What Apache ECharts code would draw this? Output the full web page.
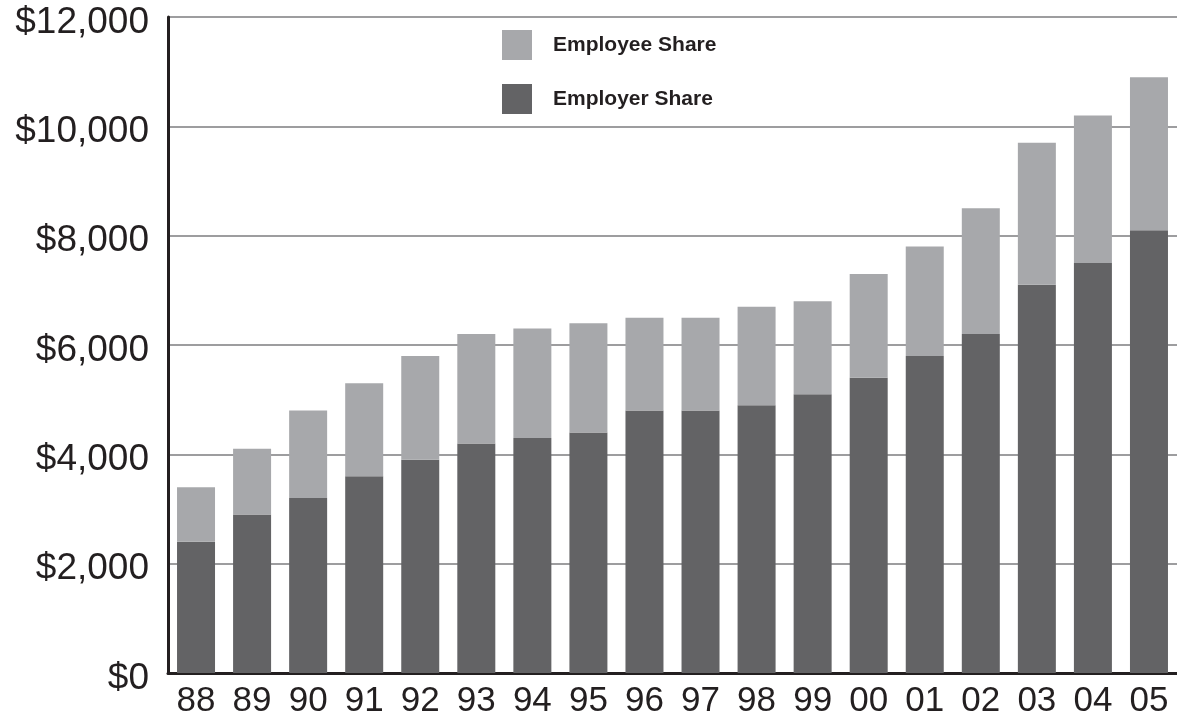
<!DOCTYPE html>
<html>
<head>
<meta charset="utf-8">
<script src="https://cdn.jsdelivr.net/npm/echarts@6/dist/echarts.min.js"></script>
<style>
  html, body { margin: 0; padding: 0; background: #ffffff; }
  #chart { width: 1177px; height: 725px; }
</style>
</head>
<body>
<div id="chart"></div>
<script>
// Fiscal years (two-digit labels)
const years = ['88', '89', '90', '91', '92', '93', '94', '95', '96', '97', '98', '99', '00', '01', '02', '03', '04', '05'];
// Employer portion of the annual premium (bottom segment)
const employerShare = [2400, 2900, 3200, 3600, 3900, 4200, 4300, 4400, 4800, 4800, 4900, 5100, 5400, 5800, 6200, 7100, 7500, 8100];
// Employee portion of the annual premium (stacked on top)
const employeeShare = [1000, 1200, 1600, 1700, 1900, 2000, 2000, 2000, 1700, 1700, 1800, 1700, 1900, 2000, 2300, 2600, 2700, 2800];
// Value axis ticks
const yTicks = [0, 2000, 4000, 6000, 8000, 10000, 12000];

const chart = echarts.init(document.getElementById('chart'), null, { renderer: 'canvas' });

const fmtDollar = v => '$' + v.toLocaleString('en-US');

chart.setOption({
  animation: false,
  backgroundColor: '#ffffff',
  grid: { left: 168, top: 17, width: 1012, height: 656, containLabel: false },
  legend: {
    orient: 'vertical',
    left: 502,
    top: 30,
    padding: 0,
    itemWidth: 30,
    itemHeight: 30,
    itemGap: 24,
    icon: 'rect',
    data: ['Employee Share', 'Employer Share'],
    textStyle: {
      fontFamily: '"Liberation Sans", Arial, Helvetica, sans-serif',
      fontWeight: 'bold',
      fontSize: 21,
      color: '#231f20',
      padding: [4, 0, 0, 16]
    }
  },
  xAxis: {
    type: 'category',
    data: years,
    axisLine: { show: true, lineStyle: { color: '#231f20', width: 3 } },
    axisTick: { show: false },
    axisLabel: {
      margin: 11,
      fontSize: 35,
      color: '#231f20',
      fontFamily: '"Liberation Sans Narrow", "Arial Narrow", "Liberation Sans", Arial, sans-serif'
    }
  },
  yAxis: {
    type: 'value',
    min: yTicks[0],
    max: yTicks[yTicks.length - 1],
    interval: yTicks[1] - yTicks[0],
    axisLine: { show: true, lineStyle: { color: '#231f20', width: 3 } },
    axisTick: { show: false },
    splitLine: { show: true, lineStyle: { color: '#9d9d9f', width: 2 } },
    axisLabel: {
      margin: 19,
      fontSize: 37,
      color: '#231f20',
      verticalAlign: 'top',
      lineHeight: 11,
      fontFamily: '"Liberation Sans", Arial, Helvetica, sans-serif',
      formatter: fmtDollar
    }
  },
  series: [
    {
      name: 'Employer Share',
      type: 'bar',
      stack: 'premium',
      barWidth: 38,
      data: employerShare,
      itemStyle: { color: '#636365' }
    },
    {
      name: 'Employee Share',
      type: 'bar',
      stack: 'premium',
      barWidth: 38,
      data: employeeShare,
      itemStyle: { color: '#a7a8ab' }
    }
  ]
});
</script>
</body>
</html>
